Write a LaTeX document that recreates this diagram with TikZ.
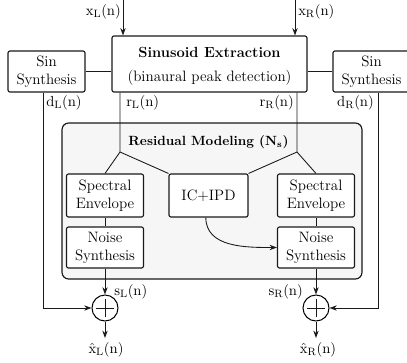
\documentclass[tikz,border=0pt]{standalone}
\usetikzlibrary{arrows.meta}
\begin{document}
\begin{tikzpicture}[x=0.75pt,y=-0.75pt,
  font=\fontsize{11.3}{13.6}\selectfont,
  line/.style={draw=black!90, line width=0.65pt},
  arr/.style={line, -{Stealth[length=5.5pt,width=4pt]}},
  blk/.style={draw=black!90, line width=0.85pt, rounded corners=1.5pt, fill=white,
              align=center, inner sep=0pt},
  panel/.style={draw=black!90, line width=0.85pt, rounded corners=5pt, fill=black!3.5,
              inner sep=0pt},
  sum/.style={circle, draw=black, line width=0.75pt, minimum size=19.5pt, inner sep=0pt},
  lbl/.style={inner sep=0pt},
]
\clip (0,0) rectangle (407,362);

% residual modeling panel
\node[panel, minimum width=225pt, minimum height=117pt] (res) at (212,201) {};
\node[lbl, font=\fontsize{10}{12}\selectfont] (restitle) at (208.5,142)
  {\textbf{Residual Modeling ($\mathbf{N_s}$)}};

% top row
\node[blk, minimum width=146.25pt, minimum height=42pt] (ext) at (209.5,64) {};
\node[lbl, font=\fontsize{11}{13}\selectfont] (exttitle) at (209.5,52) {\textbf{Sinusoid Extraction}};
\node[lbl] (extsub) at (209.5,78) {(binaural peak detection)};
\node[blk, minimum width=57.75pt, minimum height=30.75pt] (sinL) at (46.5,71.5) {Sin\\Synthesis};
\node[blk, minimum width=57.75pt, minimum height=30.75pt] (sinR) at (371.5,71.5) {Sin\\Synthesis};

% residual blocks
\node[blk, minimum width=57.75pt, minimum height=32.25pt] (specL) at (105,195.5) {Spectral\\Envelope};
\node[blk, minimum width=57.75pt, minimum height=30.75pt] (noiseL) at (105,247.5) {Noise\\Synthesis};
\node[blk, minimum width=57.75pt, minimum height=32.25pt] (specR) at (316,195.5) {Spectral\\Envelope};
\node[blk, minimum width=57.75pt, minimum height=30.75pt] (noiseR) at (316,247.5) {Noise\\Synthesis};
\node[blk, minimum width=59.25pt, minimum height=32.25pt] (ic) at (208.5,195.5) {IC+IPD};

% summation points
\node[sum] (circL) at (105,308) {};
\node[sum] (circR) at (316,308) {};
\foreach \c in {circL,circR} {
  \draw[line] ([yshift=-6.8pt]\c.center) -- ([yshift=6.8pt]\c.center);
  \draw[line] ([xshift=-6.8pt]\c.center) -- ([xshift=6.8pt]\c.center);
}

% inputs
\coordinate (inL) at (123,0);
\coordinate (inR) at (295,0);
\draw[arr] (inL) -- (inL |- ext.north);
\draw[arr] (inR) -- (inR |- ext.north);
\node[lbl, anchor=east] (xL) at (121,12) {$\mathrm{x_L(n)}$};
\node[lbl, anchor=west] (xR) at (298,12) {$\mathrm{x_R(n)}$};

% sinusoid links
\draw[line] (sinL.east) -- (sinL.east -| ext.west);
\draw[line] (sinR.west) -- (sinR.west -| ext.east);

% residual branches
\coordinate (splitL) at (120,152);
\coordinate (splitR) at (297,152);
\draw[line] (ext.south -| splitL) -- (splitL) -- (specL.north);
\draw[line] (splitL) -- (ic.north west);
\draw[line] (ext.south -| splitR) -- (splitR) -- (specR.north);
\draw[line] (splitR) -- (ic.north east);
\node[lbl, anchor=west] (rL) at (126,103) {$\mathrm{r_L(n)}$};
\node[lbl, anchor=east] (rR) at (294,103) {$\mathrm{r_R(n)}$};

\draw[line] (specL.south) -- (noiseL.north);
\draw[line] (specR.south) -- (noiseR.north);
\draw[arr] ([xshift=-2pt]ic.south) to[out=-90, in=180] (noiseR.west);

% deterministic paths
\coordinate (dL) at (43,308);
\coordinate (dR) at (378,308);
\draw[arr] (sinL.south -| dL) -- (dL) -- (circL.west);
\draw[arr] (sinR.south -| dR) -- (dR) -- (circR.east);
\node[lbl, anchor=west] (dLl) at (46,103) {$\mathrm{d_L(n)}$};
\node[lbl, anchor=east] (dRl) at (374,103) {$\mathrm{d_R(n)}$};

% noise into sums
\draw[arr] (noiseL.south) -- (circL.north);
\draw[arr] (noiseR.south) -- (circR.north);
\node[lbl, anchor=west] (sL) at (114,292) {$\mathrm{s_L(n)}$};
\node[lbl, anchor=east] (sR) at (303,292) {$\mathrm{s_R(n)}$};

% outputs
\coordinate (outL) at (105,338);
\coordinate (outR) at (316,338);
\draw[arr] (circL.south) -- (outL);
\draw[arr] (circR.south) -- (outR);
\node[lbl] (yL) at (106,350) {$\hat{\mathrm{x}}_{\mathrm{L}}\mathrm{(n)}$};
\node[lbl] (yR) at (318,350) {$\hat{\mathrm{x}}_{\mathrm{R}}\mathrm{(n)}$};
\end{tikzpicture}
\end{document}
